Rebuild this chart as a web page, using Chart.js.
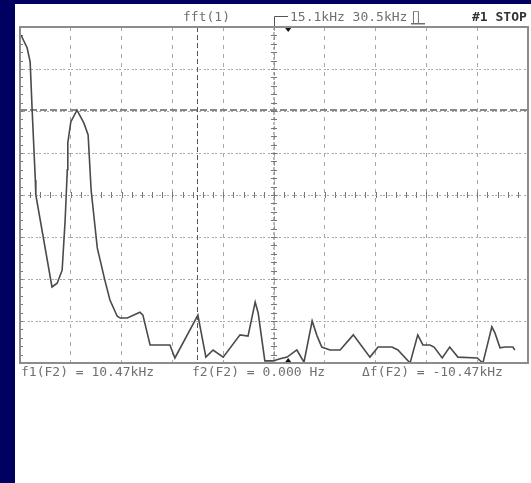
<!doctype html>
<html>
<head>
<title>fft(1)</title>
<script src="https://cdn.jsdelivr.net/npm/chart.js"></script>
<style>
  body { margin: 0; background: #000060; }
</style>
</head>
<body>
<canvas id="scope" width="531" height="483"></canvas>
<script>
// FFT trace: frequency in kHz, level in screen divisions (0 = bottom)
var freqKHz = [-0.09, 0.28, 0.46, 0.58, 0.77, 0.80, 1.77, 2.08, 2.38, 2.56, 2.69, 2.72, 2.90,
  3.27, 3.69, 3.94, 4.12, 4.49, 4.94, 5.25, 5.68, 5.86, 6.29, 7.05, 7.23, 7.66, 8.85, 9.15,
  10.53, 11.01, 11.44, 12.05, 13.06, 13.54, 13.97, 14.15, 14.55, 15.04, 15.47, 15.89, 16.47,
  16.90, 17.39, 17.69, 17.97, 18.46, 19.07, 19.86, 20.86, 21.35, 22.18, 22.54, 23.27, 23.73,
  24.04, 24.46, 24.71, 25.20, 25.65, 26.14, 27.30, 27.64, 27.94, 28.18, 28.37, 28.67, 28.98,
  29.44, 29.56];
var levelDiv = [7.81, 7.50, 7.17, 6.02, 4.36, 4.00, 1.81, 1.90, 2.21, 3.40, 4.60, 5.24, 5.74,
  6.02, 5.71, 5.43, 4.12, 2.74, 1.98, 1.50, 1.12, 1.07, 1.07, 1.21, 1.14, 0.43, 0.43, 0.12,
  1.14, 0.14, 0.31, 0.14, 0.67, 0.64, 1.45, 1.19, 0.05, 0.05, 0.10, 0.14, 0.31,
  0.02, 1.00, 0.64, 0.38, 0.31, 0.31, 0.67, 0.14, 0.38, 0.38, 0.31, 0.00, 0.67,
  0.43, 0.43, 0.38, 0.12, 0.38, 0.14, 0.12, 0.00, 0.48, 0.86, 0.71, 0.36, 0.38,
  0.38, 0.31];

// screen: centre 15.1 kHz, span 30.5 kHz, 10 x 8 divisions
var xGrid = [-0.15, 2.9, 5.95, 9.0, 12.05, 15.1, 18.15, 21.2, 24.25, 27.3, 30.35];
var yGrid = [0, 1, 2, 3, 4, 5, 6, 7, 8];
var centerKHz = 15.1;
var cursorF1 = 10.47;
var cursorLevel = 6.03;
var markerKHz = 15.95;

var topLabels = ['fft(1)', '15.1kHz 30.5kHz'];
var stopLabel = '#1 STOP';
var readouts = ['f1(F2) = 10.47kHz', 'f2(F2) = 0.000 Hz', '\u0394f(F2) = -10.47kHz'];

var screenPlugin = {
  id: 'screen',
  beforeDraw: function (chart) {
    var c = chart.ctx;
    c.save();
    c.fillStyle = '#000060';
    c.fillRect(0, 0, chart.width, chart.height);
    c.fillStyle = '#ffffff';
    c.fillRect(15, 4, chart.width - 15, chart.height - 4);
    c.restore();
  },
  beforeDatasetsDraw: function (chart) {
    var c = chart.ctx, a = chart.chartArea;
    var xs = chart.scales.x, ys = chart.scales.y;
    var cx = xs.getPixelForValue(centerKHz);
    var cy = ys.getPixelForValue(4);
    c.save();
    c.strokeStyle = '#777';
    c.lineWidth = 1;
    // centre axes with minor ticks
    c.setLineDash([3, 2]);
    c.beginPath(); c.moveTo(cx, a.top); c.lineTo(cx, a.bottom); c.stroke();
    c.setLineDash([]);
    var stepY = (ys.getPixelForValue(0) - ys.getPixelForValue(1)) / 5;
    for (var y = a.top; y <= a.bottom + 0.5; y += stepY) {
      c.beginPath(); c.moveTo(cx - 3, Math.round(y) + 0.5); c.lineTo(cx + 3, Math.round(y) + 0.5); c.stroke();
      c.beginPath(); c.moveTo(a.left, Math.round(y) + 0.5); c.lineTo(a.left + 3, Math.round(y) + 0.5); c.stroke();
    }
    var stepX = (xs.getPixelForValue(xGrid[1]) - xs.getPixelForValue(xGrid[0])) / 5;
    for (var x = a.left; x <= a.right + 0.5; x += stepX) {
      c.beginPath(); c.moveTo(Math.round(x) + 0.5, cy - 3); c.lineTo(Math.round(x) + 0.5, cy + 3); c.stroke();
    }
    // cursors
    var fx = Math.round(xs.getPixelForValue(cursorF1)) + 0.5;
    c.strokeStyle = '#555';
    c.setLineDash([5, 3]);
    c.beginPath(); c.moveTo(fx, a.top); c.lineTo(fx, a.bottom); c.stroke();
    var ly = Math.round(ys.getPixelForValue(cursorLevel));
    c.strokeStyle = '#888';
    c.lineWidth = 2;
    c.setLineDash([7, 3]);
    c.beginPath(); c.moveTo(a.left, ly); c.lineTo(a.right, ly); c.stroke();
    c.restore();
  },
  afterDraw: function (chart) {
    var c = chart.ctx, a = chart.chartArea;
    var xs = chart.scales.x;
    c.save();
    // frame
    c.strokeStyle = '#8c8c8c';
    c.lineWidth = 2;
    c.strokeRect(a.left, a.top, a.right - a.left, a.bottom - a.top);
    // markers
    var mx = xs.getPixelForValue(markerKHz);
    c.fillStyle = '#111';
    c.beginPath(); c.moveTo(mx - 3, a.top + 1); c.lineTo(mx + 3, a.top + 1); c.lineTo(mx, a.top + 5); c.fill();
    c.beginPath(); c.moveTo(mx - 3, a.bottom - 1); c.lineTo(mx + 3, a.bottom - 1); c.lineTo(mx, a.bottom - 5); c.fill();
    // bracket before the span readout
    c.strokeStyle = '#555';
    c.lineWidth = 1;
    c.beginPath(); c.moveTo(274.5, 26); c.lineTo(274.5, 16.5); c.lineTo(288, 16.5); c.stroke();
    // texts
    c.font = '13px "DejaVu Sans Mono"';
    c.fillStyle = '#707070';
    c.textBaseline = 'middle';
    c.fillText(topLabels[0], 183, 18);
    c.fillText(topLabels[1], 290, 18);
    c.fillText('\u220F', 412, 18);
    c.fillRect(411, 23, 14, 1.5);
    c.fillText(readouts[0], 21, 373);
    c.fillText(readouts[1], 192, 373);
    c.fillText(readouts[2], 362, 373);
    c.font = 'bold 13px "DejaVu Sans Mono"';
    c.fillStyle = '#333';
    c.fillText(stopLabel, 472, 18);
    c.restore();
  }
};

var points = freqKHz.map(function (f, i) { return { x: f, y: levelDiv[i] }; });

var chart = new Chart(document.getElementById('scope').getContext('2d'), {
  type: 'line',
  data: {
    datasets: [{
      data: points,
      borderColor: '#4a4a4a',
      borderWidth: 1.6,
      pointRadius: 0,
      tension: 0,
      fill: false
    }]
  },
  options: {
    responsive: false,
    animation: false,
    events: [],
    layout: { padding: { left: 20, top: 27, right: 3, bottom: 120 } },
    plugins: { legend: { display: false }, tooltip: { enabled: false } },
    scales: {
      x: {
        type: 'linear',
        min: xGrid[0],
        max: xGrid[xGrid.length - 1],
        afterBuildTicks: function (s) { s.ticks = xGrid.map(function (v) { return { value: v }; }); },
        ticks: { display: false },
        grid: { color: '#a8a8a8', lineWidth: 1, drawTicks: false },
        border: { display: false, dash: [4, 5] }
      },
      y: {
        min: yGrid[0],
        max: yGrid[yGrid.length - 1],
        afterBuildTicks: function (s) { s.ticks = yGrid.map(function (v) { return { value: v }; }); },
        ticks: { display: false },
        grid: { color: '#a8a8a8', lineWidth: 1, drawTicks: false },
        border: { display: false, dash: [2, 1, 2, 3] }
      }
    }
  },
  plugins: [screenPlugin]
});
</script>
</body>
</html>
